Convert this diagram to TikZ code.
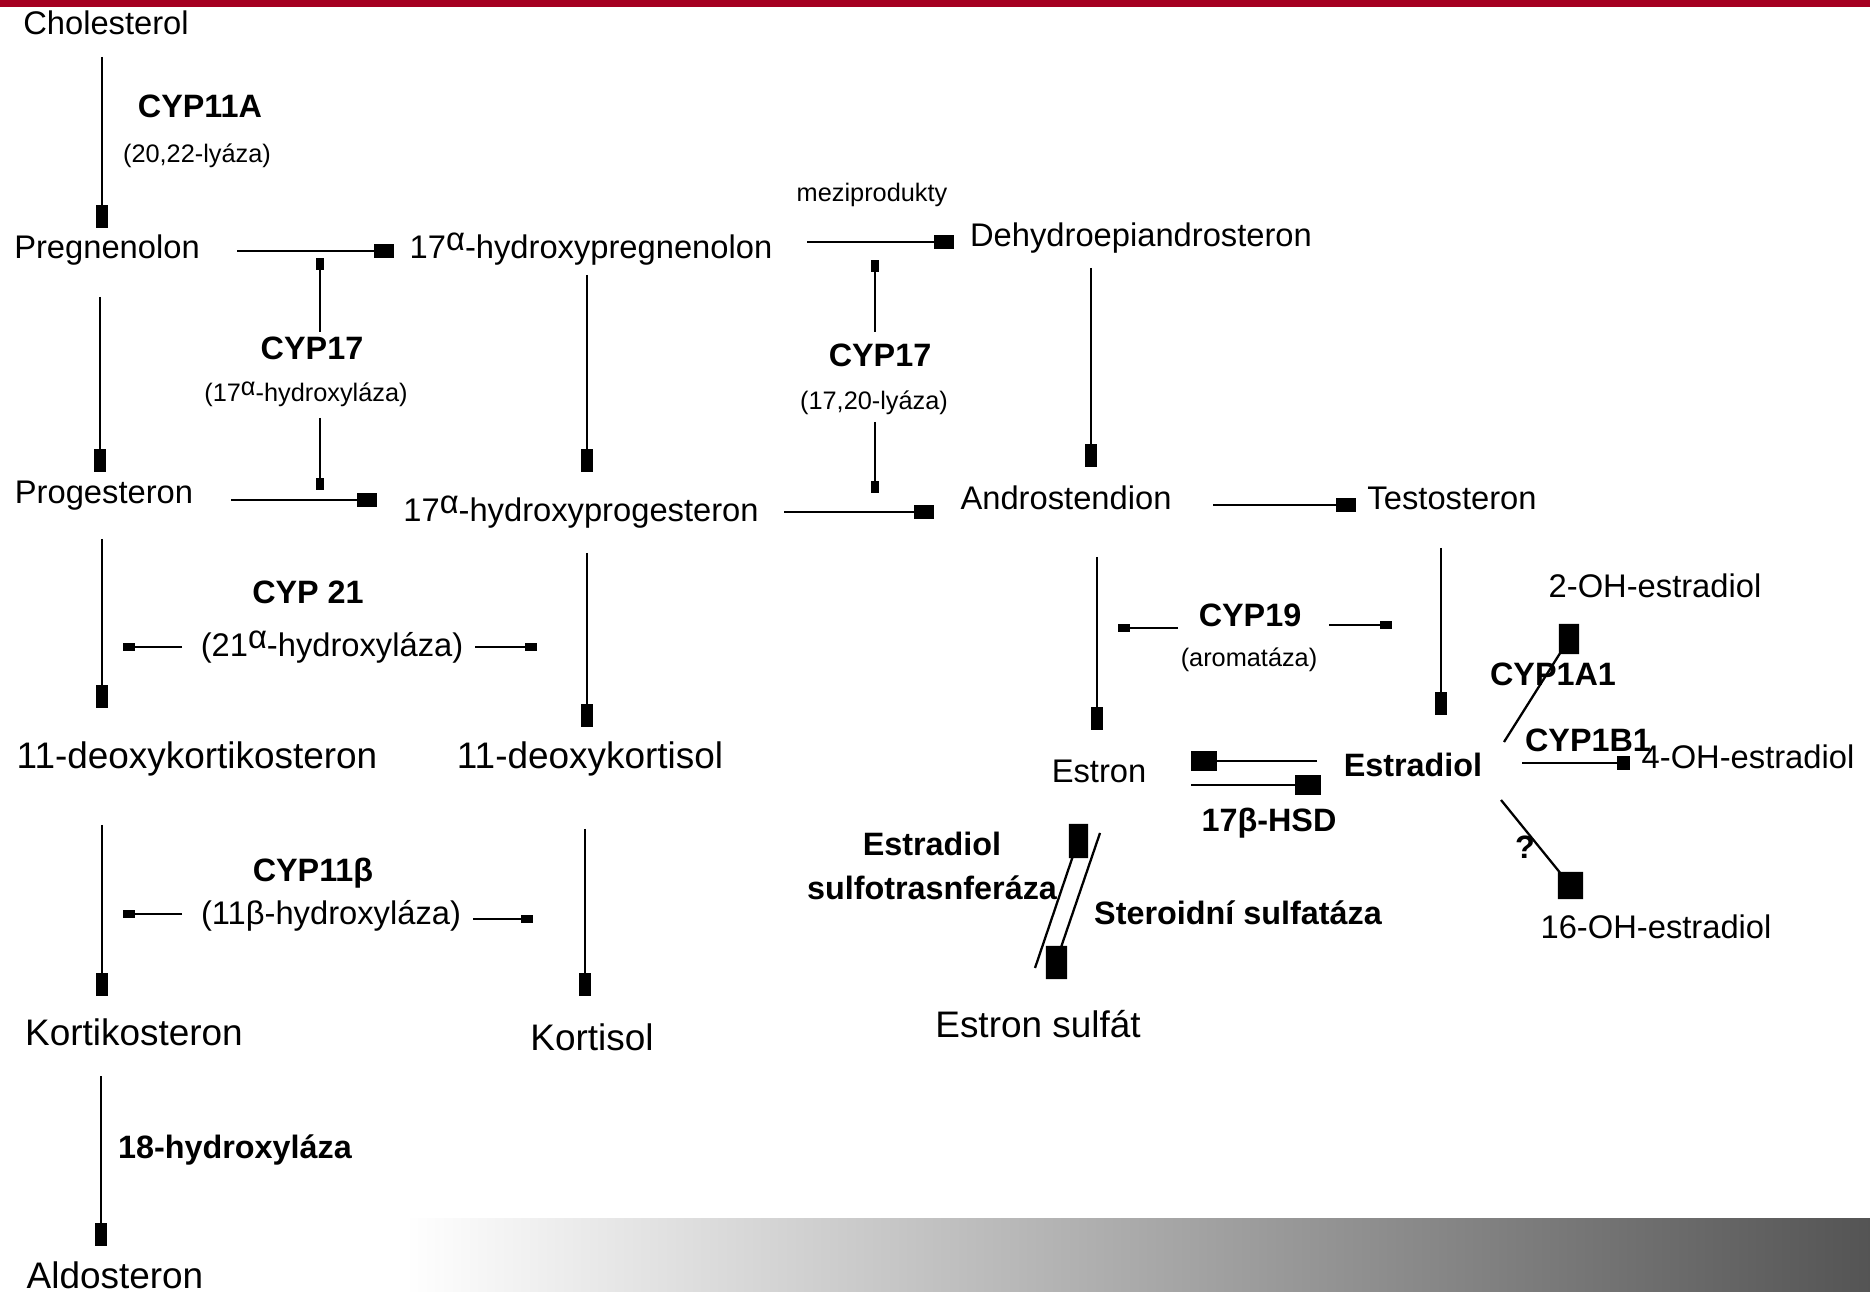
\documentclass[tikz,border=0pt]{standalone}
\usepackage{fontspec}
\setmainfont{Liberation Sans}
\usetikzlibrary{arrows.meta,calc}
\definecolor{topred}{RGB}{165,0,33}
\newcommand{\alup}{\raisebox{0.5ex}{α}}

\begin{document}
\begin{tikzpicture}[x=0.01cm,y=-0.01cm,
  chem/.style={font=\fontsize{9.3}{11}\selectfont,anchor=base,inner sep=0pt},
  big/.style={font=\fontsize{10.5}{12}\selectfont,anchor=base,inner sep=0pt},
  enz/.style={font=\fontsize{9.2}{11}\selectfont\bfseries,anchor=base,inner sep=0pt},
  note/.style={font=\fontsize{7.2}{9}\selectfont,anchor=base,inner sep=0pt},
  dline/.style={line width=0.65pt},
  varr/.style={dline,-{Square[length=6.5pt,width=3.3pt]}},
  harr/.style={dline,-{Square[length=5.8pt,width=4.2pt]}},
  bigarr/.style={dline,-{Square[length=7.5pt,width=5.5pt]}},
  midarr/.style={dline,-{Square[length=3.6pt,width=3.8pt]}},
  smarr/.style={line width=0.55pt,-{Square[length=3.4pt,width=2.4pt]}}]
  \useasboundingbox (0,0) rectangle (1870,1292);
  \fill[topred] (0,0) rectangle (1870,7);
  \shade[left color=white,middle color=black!25,right color=black!67] (405,1218) rectangle (1870,1292);

  \node[chem] (chol) at (106,35) {Cholesterol};
  \node[enz] (cyp11a) at (200,118) {CYP11A};
  \node[note] (lyaza2022) at (197,163) {(20,22-lyáza)};
  \node[chem] (preg) at (107,259) {Pregnenolon};
  \node[chem] (ohpreg) at (591,259) {17\alup-hydroxypregnenolon};
  \node[note] (mezi) at (872,202) {meziprodukty};
  \node[chem] (dhea) at (1141,247) {Dehydroepiandrosteron};
  \node[enz] (cyp17a) at (312,360) {CYP17};
  \node[note] (hyd17) at (306,402) {(17\alup-hydroxyláza)};
  \node[enz] (cyp17b) at (880,367) {CYP17};
  \node[note] (lyaza1720) at (874,410) {(17,20-lyáza)};
  \node[chem] (prog) at (104,504) {Progesteron};
  \node[chem] (ohprog) at (581,522) {17\alup-hydroxyprogesteron};
  \node[chem] (andro) at (1066,510) {Androstendion};
  \node[chem] (testo) at (1452,510) {Testosteron};
  \node[enz] (cyp21) at (308,604) {CYP 21};
  \node[chem] (hyd21) at (332,657) {(21\alup-hydroxyláza)};
  \node[enz] (cyp19) at (1250,627) {CYP19};
  \node[note] (arom) at (1249,667) {(aromatáza)};
  \node[big] (doc) at (197,768) {11-deoxykortikosteron};
  \node[big] (dcort) at (590,768) {11-deoxykortisol};
  \node[chem] (estron) at (1099,783) {Estron};
  \node[enz] (estradiol) at (1413,777) {Estradiol};
  \node[enz] (hsd) at (1269,832) {17β-HSD};
  \node[chem] (oh2) at (1655,598) {2-OH-estradiol};
  \node[enz] (cyp1a1) at (1553,686) {CYP1A1};
  \node[enz] (cyp1b1) at (1588,752) {CYP1B1};
  \node[chem] (oh4) at (1748,768) {4-OH-estradiol};
  \node[enz] (quest) at (1525,858) {?};
  \node[chem] (oh16) at (1656,939) {16-OH-estradiol};
  \node[enz,align=center,anchor=north,font=\fontsize{9.2}{12.5}\selectfont\bfseries] (sult) at (932,831) {Estradiol\\sulfotrasnferáza};
  \node[enz] (sulfa) at (1238,925) {Steroidní sulfatáza};
  \node[big] (esul) at (1038,1037) {Estron sulfát};
  \node[enz] (cyp11b) at (313,882) {CYP11β};
  \node[chem] (hyd11) at (331,924) {(11β-hydroxyláza)};
  \node[big] (kortik) at (134,1045) {Kortikosteron};
  \node[big] (kortisol) at (592,1050) {Kortisol};
  \node[enz] (hyd18) at (235,1158) {18-hydroxyláza};
  \node[big] (aldo) at (115,1288) {Aldosteron};

  \coordinate (t17a) at (320,258);
  \coordinate (t17b) at (320,490);
  \coordinate (t17c) at (875,260);
  \coordinate (t17d) at (875,493);
  \coordinate (t21l) at (123,647);
  \coordinate (t21r) at (537,647);
  \coordinate (t11l) at (123,914);
  \coordinate (t11r) at (533,919);
  \coordinate (t19l) at (1118,628);
  \coordinate (t19r) at (1392,625);

  \draw[varr] ($(chol.base)+(-4,22)$) -- ($(preg.base)+(-5,-31)$);
  \draw[varr] ($(preg.base)+(-7,38)$) -- ($(prog.base)+(-4,-32)$);
  \draw[varr] ($(prog.base)+(-2,35)$) -- ($(doc.base)+(-95,-60)$);
  \draw[varr] ($(doc.base)+(-95,57)$) -- ($(kortik.base)+(-32,-49)$);
  \draw[varr] ($(kortik.base)+(-33,31)$) -- ($(aldo.base)+(-14,-42)$);
  \draw[varr] ($(ohpreg.base)+(-4,16)$) -- ($(ohprog.base)+(6,-50)$);
  \draw[varr] ($(ohprog.base)+(6,31)$) -- ($(dcort.base)+(-3,-41)$);
  \draw[varr] ($(dcort.base)+(-5,61)$) -- ($(kortisol.base)+(-7,-54)$);
  \draw[varr] ($(dhea.base)+(-50,21)$) -- ($(andro.base)+(25,-43)$);
  \draw[varr] ($(andro.base)+(31,47)$) -- ($(estron.base)+(-2,-53)$);
  \draw[varr] ($(testo.base)+(-11,38)$) -- ($(estradiol.base)+(28,-62)$);

  \draw[harr] ($(preg.base)+(130,-8)$) -- ($(ohpreg.base)+(-197,-8)$);
  \draw[harr] ($(prog.base)+(127,-4)$) -- ($(ohprog.base)+(-204,-22)$);
  \draw[harr] ($(ohpreg.base)+(216,-17)$) -- ($(dhea.base)+(-187,-5)$);
  \draw[harr] ($(ohprog.base)+(203,-10)$) -- ($(andro.base)+(-132,2)$);
  \draw[harr] ($(andro.base)+(147,-5)$) -- ($(testo.base)+(-96,-5)$);

  \draw[bigarr] ($(estradiol.base)+(-96,-16)$) -- ($(estron.base)+(92,-22)$);
  \draw[bigarr] ($(estron.base)+(92,2)$) -- ($(estradiol.base)+(-92,8)$);
  \draw[midarr] ($(estradiol.base)+(109,-14)$) -- ($(oh4.base)+(-118,-5)$);
  \draw[dline,fill] ($(estradiol.base)+(91,-35)$) -- ($(oh2.base)+(-86,41)$) ++(-9,-14) rectangle ++(18,28);
  \draw[dline,fill] ($(estradiol.base)+(88,23)$) -- ($(oh16.base)+(-86,-54)$) ++(-11,-12) rectangle ++(23,25);
  \draw[dline,fill] ($(esul.base)+(-3,-69)$) -- ($(estron.base)+(-21,58)$) ++(-8,-16) rectangle ++(17,32);
  \draw[dline,fill] ($(estron.base)+(1,50)$) -- ($(esul.base)+(18,-75)$) ++(-9,-15) rectangle ++(19,31);

  \draw[smarr] ($(cyp17a.base)+(8,-28)$) -- (t17a);
  \draw[smarr] ($(hyd17.base)+(14,16)$) -- (t17b);
  \draw[smarr] ($(cyp17b.base)+(-5,-35)$) -- (t17c);
  \draw[smarr] ($(lyaza1720.base)+(1,12)$) -- (t17d);
  \draw[smarr] ($(hyd21.base)+(-150,-10)$) -- (t21l);
  \draw[smarr] ($(hyd21.base)+(143,-10)$) -- (t21r);
  \draw[smarr] ($(hyd11.base)+(-149,-10)$) -- (t11l);
  \draw[smarr] ($(hyd11.base)+(142,-5)$) -- (t11r);
  \draw[smarr] ($(cyp19.base)+(-72,1)$) -- (t19l);
  \draw[smarr] ($(cyp19.base)+(79,-2)$) -- (t19r);
\end{tikzpicture}
\end{document}
